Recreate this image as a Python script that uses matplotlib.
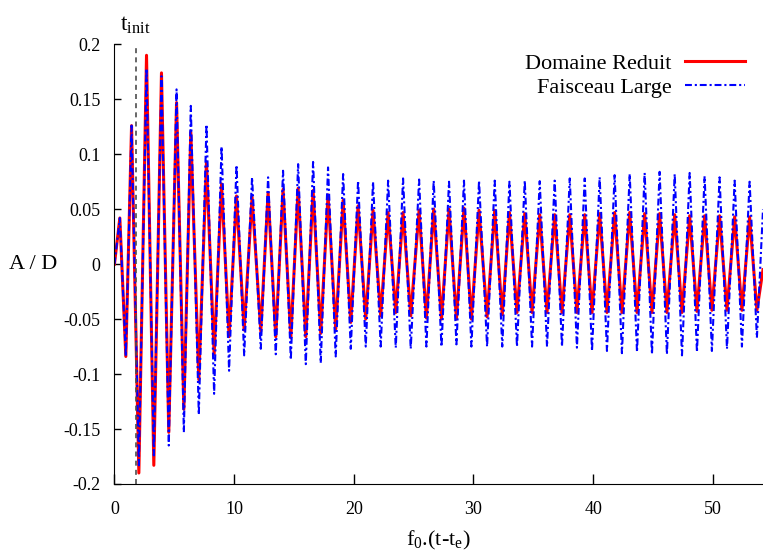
"""
Domaine Reduit vs Faisceau Large : A/D en fonction de f0.(t-te)
"""
import matplotlib
matplotlib.use('Agg')
import matplotlib.pyplot as plt

plt.rcParams['font.family'] = ['Liberation Serif', 'DejaVu Serif']
plt.rcParams['mathtext.fontset'] = 'custom'
plt.rcParams['mathtext.rm'] = 'Liberation Serif'
plt.rcParams['mathtext.it'] = 'Liberation Serif:italic'

# extrema (peaks / troughs), in order
t_ext = [0.0, 0.45, 0.95, 1.43, 2.04, 2.68, 3.29, 3.93, 4.54, 5.19,
         5.80, 6.38, 7.05, 7.69, 8.33, 8.95, 9.58, 10.20, 10.84, 11.50,
         12.23, 12.84, 13.48, 14.09, 14.74, 15.35, 15.99, 16.60, 17.24, 17.85,
         18.49, 19.11, 19.75, 20.36, 21.00, 21.61, 22.25, 22.87, 23.51, 24.12,
         24.76, 25.46, 26.07, 26.68, 27.33, 27.96, 28.58, 29.21, 29.83, 30.47,
         31.14, 31.78, 32.41, 33.01, 33.64, 34.29, 34.90, 35.54, 36.15, 36.79,
         37.40, 38.05, 38.65, 39.30, 39.91, 40.55, 41.16, 41.80, 42.41, 43.06,
         43.67, 44.31, 44.92, 45.56, 46.17, 46.82, 47.43, 48.07, 48.68, 49.32,
         49.93, 50.57, 51.19, 51.83, 52.44, 53.08, 53.69, 54.2]

domaine_reduit = [0.0, 0.042, -0.084, 0.126, -0.190, 0.190, -0.183, 0.174, -0.153, 0.147,
                  -0.132, 0.120, -0.105, 0.093, -0.082, 0.073, -0.066, 0.062, -0.060, 0.061,
                  -0.061, 0.065, -0.066, 0.068, -0.067, 0.069, -0.066, 0.067, -0.063, 0.063,
                  -0.059, 0.058, -0.053, 0.053, -0.050, 0.049, -0.047, 0.047, -0.044, 0.047,
                  -0.047, 0.049, -0.049, 0.050, -0.050, 0.050, -0.050, 0.051, -0.050, 0.049,
                  -0.048, 0.049, -0.046, 0.047, -0.044, 0.046, -0.044, 0.045, -0.044, 0.045,
                  -0.044, 0.045, -0.044, 0.045, -0.044, 0.046, -0.044, 0.047, -0.044, 0.047,
                  -0.044, 0.046, -0.044, 0.046, -0.044, 0.045, -0.044, 0.044, -0.043, 0.044,
                  -0.042, 0.044, -0.042, 0.043, -0.042, 0.043, -0.042, -0.005]

faisceau_large = [0.0, 0.042, -0.084, 0.126, -0.183, 0.178, -0.174, 0.171, -0.165, 0.159,
                  -0.153, 0.144, -0.137, 0.127, -0.118, 0.107, -0.097, 0.090, -0.083, 0.079,
                  -0.077, 0.079, -0.082, 0.085, -0.087, 0.091, -0.091, 0.093, -0.090, 0.088,
                  -0.084, 0.082, -0.077, 0.076, -0.075, 0.075, -0.075, 0.076, -0.076, 0.078,
                  -0.077, 0.077, -0.075, 0.076, -0.075, 0.075, -0.073, 0.076, -0.075, 0.076,
                  -0.075, 0.076, -0.075, 0.075, -0.075, 0.076, -0.075, 0.0755, -0.075, 0.076,
                  -0.075, 0.078, -0.076, 0.078, -0.079, 0.079, -0.079, 0.081, -0.081, 0.082,
                  -0.080, 0.083, -0.082, 0.084, -0.082, 0.082, -0.083, 0.083, -0.080, 0.080,
                  -0.079, 0.079, -0.077, 0.076, -0.075, 0.075, -0.067, 0.05]

t_init = 1.76

yticks = [-0.2, -0.15, -0.1, -0.05, 0, 0.05, 0.1, 0.15, 0.2]
ytick_labels = ['-0.2', '-0.15', '-0.1', '-0.05', '0', '0.05', '0.1', '0.15', '0.2']
xticks = [0, 10, 20, 30, 40, 50]

fig = plt.figure(figsize=(7.63, 5.51), dpi=100)
ax = fig.add_axes([0.150, 0.1216, 0.850, 0.798])

ax.plot(t_ext, domaine_reduit, color='#ff0000', lw=2.2, label='Domaine Reduit')
ax.plot(t_ext, faisceau_large, color='#0000ff', lw=1.5,
        dashes=(3.3, 1.4, 1.0, 1.4), label='Faisceau Large')

ax.axvline(t_init, color='0.3', lw=1.2, dashes=(3, 2.5))
ax.annotate(r't$_\mathrm{init}$', xy=(t_init, 0.2), xytext=(0, 6),
            textcoords='offset points', ha='center', va='bottom', fontsize=17)

ax.set_xlim(0, 54.2)
ax.set_ylim(-0.2, 0.2)
ax.set_yticks(yticks)
ax.set_yticklabels(ytick_labels)
ax.set_xticks(xticks)
ax.tick_params(direction='in', labelsize=13, length=5, width=1)
ax.tick_params(axis='x', pad=12, length=7)
ax.tick_params(axis='y', pad=10)
ax.spines['top'].set_visible(False)
ax.spines['right'].set_visible(False)

ax.set_xlabel(r'f$_0$.(t-t$_\mathrm{e}$)', fontsize=16, labelpad=8)
ax.set_ylabel('A / D', fontsize=16, rotation=0, ha='center', va='center')
ax.yaxis.set_label_coords(-0.1257, 0.5)

ax.legend(loc='upper right', bbox_to_anchor=(0.986, 1.0), frameon=False,
          fontsize=16, markerfirst=False, handlelength=2.7, handletextpad=0.6,
          labelspacing=0.15, borderaxespad=0.0)

plt.savefig('out.png', dpi=100)
print("Saved: out.png")
